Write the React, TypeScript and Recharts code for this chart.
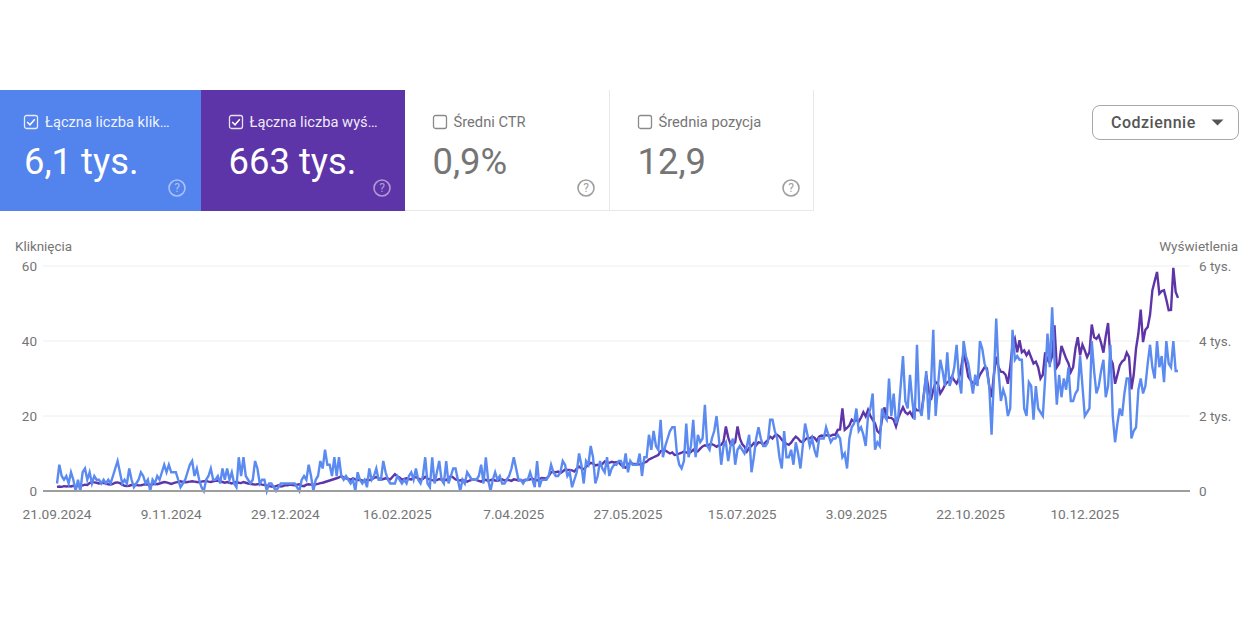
import React from "react";
import { LineChart, Line, XAxis, YAxis, CartesianGrid } from "recharts";

const tickIdx = [0, 49, 98, 146, 196, 245, 294, 343, 392, 441];
const tickLabels = ["21.09.2024", "9.11.2024", "29.12.2024", "16.02.2025", "7.04.2025", "27.05.2025", "15.07.2025", "3.09.2025", "22.10.2025", "10.12.2025"];

const clicks = [
  2,7,4,3,4,2,5,3,0,3, 0,5,6,3,5,2,4,3,3,2, 3,2,3,2,4,6,8,5,2,3, 2,6,3,1,2,3,5,4,2,3,
  0,3,2,4,3,5,7,5,7,5, 5,5,3,1,2,3,5,7,8,4, 6,3,1,0,3,4,6,3,3,4, 2,6,3,6,3,5,2,1,9,4,
  9,4,3,2,3,8,6,2,3,3, 0,2,2,1,0,1,2,2,2,2, 2,2,2,1,0,3,4,3,7,4, 0,3,4,8,6,11,7,7,4,9,
  4,9,4,3,4,3,2,3,0,5, 3,2,3,1,6,3,4,6,3,3, 8,5,3,2,2,2,4,3,2,3, 2,4,5,3,6,3,2,4,9,2,
  1,9,2,5,8,3,2,8,2,4, 6,6,3,0,3,2,5,4,3,3, 3,4,7,2,9,3,0,3,5,3, 4,2,2,3,4,6,9,6,3,3,
  2,3,3,5,3,1,8,1,3,3, 3,4,7,5,4,4,5,8,7,4, 5,1,3,5,10,7,2,8,7,12, 9,2,4,8,6,5,9,4,6,7,
  7,8,8,6,10,5,8,7,7,7, 10,4,9,9,15,11,16,12,11,19, 9,12,14,16,17,17,10,7,6,8, 18,9,12,19,9,15,13,14,23,12,
  11,14,16,20,14,7,12,13,8,12, 14,7,11,12,11,10,12,15,5,9, 14,17,14,12,12,13,19,19,16,14, 9,6,16,9,9,11,7,13,10,6,
  12,18,15,12,14,11,9,14,14,14, 17,15,13,14,14,15,14,9,10,6, 14,17,18,22,16,17,15,12,20,22, 26,11,13,12,22,20,19,30,20,26,
  18,20,28,36,24,22,31,24,19,39, 22,20,26,32,19,28,43,20,28,35, 32,28,37,28,30,33,39,30,26,40, 36,34,30,26,31,28,40,38,34,32,
  28,15,30,46,32,24,27,25,20,22, 43,35,36,35,35,22,20,29,28,19, 28,22,21,20,30,42,33,49,35,23, 31,25,30,27,33,24,24,26,27,36,
  28,20,21,22,40,32,26,28,32,35, 25,28,39,20,13,18,22,20,26,30, 30,14,16,17,27,30,26,28,34,39, 33,30,40,33,36,29,40,34,33,40,
  32,32,
];

const impressions = [
  110,120,110,130,120,130,120,140,130,140, 130,150,170,160,210,240,230,220,200,210,
  220,200,180,170,190,220,230,210,170,140, 130,140,160,170,160,150,150,170,180,170,
  170,180,190,180,200,220,240,230,210,190, 210,230,240,260,240,230,240,250,260,250,
  240,230,250,260,270,250,240,260,270,280, 260,240,220,240,220,200,230,240,220,210,
  240,220,200,190,180,170,180,190,170,160, 150,130,120,110,130,150,120,130,160,150,
  170,160,150,170,180,140,130,170,180,170, 160,180,190,210,220,240,260,280,300,320,
  340,360,400,360,340,320,300,340,310,290, 300,280,270,300,290,310,350,370,340,300,
  320,340,330,310,380,450,390,360,300,320, 340,320,310,350,370,340,300,320,380,330,
  310,290,280,290,320,300,310,290,330,400, 360,310,290,280,300,270,250,280,300,310,
  290,270,250,290,300,260,290,310,280,270, 290,310,280,300,290,270,310,300,280,290,
  270,300,290,310,330,300,280,320,350,340, 330,400,500,510,500,520,480,520,570,560,
  560,550,520,600,650,600,580,640,700,750, 730,680,700,680,720,790,760,750,780,760,
  770,760,700,650,620,700,760,730,720,710, 710,720,760,780,840,870,900,930,960,1060,
  1090,1080,1040,1000,1030,960,970,1000,1020,1050, 1030,1010,1040,1100,1030,1060,1130,1190,1220,1200,
  1240,1250,1220,1180,1220,1230,1320,1720,1430,1250, 1230,1300,1720,1400,1250,1180,1050,1150,1200,1280,
  1220,1300,1290,1240,1300,1360,1450,1400,1480,1500, 1450,1370,1300,1260,1230,1290,1380,1450,1400,1320,
  1300,1370,1420,1400,1450,1420,1340,1450,1480,1470, 1490,1480,1470,1500,1500,1630,1640,2200,1630,1680,
  1750,1900,1850,1900,1850,1960,2100,1990,2160,2000, 1900,1800,1600,1540,1900,2230,2000,1950,1950,1900,
  1720,1950,2100,2230,2100,2050,2110,2000,2230,2150, 2150,2130,2600,3090,2700,2430,2700,2910,2850,2600,
  2700,2830,2900,2950,3050,2950,2870,3000,3300,3700, 3400,3050,2950,2880,2870,2950,3100,3200,3300,3270,
  2800,2500,3100,3580,3300,3180,3170,3100,2860,3300, 3900,4060,3700,4020,3700,3750,3620,3720,3560,3400,
  3450,3300,3000,3100,3700,3500,3400,3600,4420,3300, 3400,3870,3700,3530,3400,3170,3300,3800,4100,3620,
  3900,3750,3570,3700,4440,4100,4060,4150,3950,3690, 4130,4480,3530,3400,2860,3100,3350,3450,3500,3690,
  3570,2710,3100,3800,4200,4840,3970,4300,4370,4700, 5350,5600,5840,5260,5330,5350,5100,4820,4830,5950,
  5310,5150,
];

const leftTicks = [0, 20, 40, 60];
const rightTicks = [0, 2000, 4000, 6000];
const rightLabels = ["0", "2 tys.", "4 tys.", "6 tys."];

const cards = [
  { label: "Łączna liczba klik…", value: "6,1 tys.", bg: "#5383EC", on: true },
  { label: "Łączna liczba wyś…", value: "663 tys.", bg: "#5E35A8", on: true },
  { label: "Średni CTR", value: "0,9%", bg: "#FFFFFF", on: false },
  { label: "Średnia pozycja", value: "12,9", bg: "#FFFFFF", on: false },
];

const rows = clicks.map((c, i) => ({ idx: i, clicks: c, impressions: impressions[i] }));
const FONT = "Roboto, sans-serif";

function Card({ c, x, w, inset }: { c: (typeof cards)[number]; x: number; w: number; inset: number }) {
  const fg = c.on ? "#FFFFFF" : "#757575";
  const help = c.on ? "rgba(255,255,255,0.5)" : "#9E9E9E";
  return (
    <div style={{ position: "absolute", left: x, top: 90, width: w, height: 121, background: c.bg, boxSizing: "border-box", borderRight: c.on ? "none" : "1px solid #E8E8E8", borderBottom: c.on ? "none" : "1px solid #E8E8E8", fontFamily: FONT }}>
      <svg width={16} height={16} style={{ position: "absolute", left: 23 + inset, top: 24 }}>
        <rect x={1.5} y={1.5} width={13} height={13} rx={2} fill="none" stroke={c.on ? "rgba(255,255,255,0.85)" : "#8A8A8A"} strokeWidth={1.3} />
        {c.on && <path d="M4.2 8 L7 10.8 L11.8 5.2" fill="none" stroke="#FFFFFF" strokeWidth={1.5} />}
      </svg>
      <div style={{ position: "absolute", left: 45 + inset, top: 23, fontSize: 14.7, lineHeight: "18px", color: c.on ? "rgba(255,255,255,0.92)" : "#757575", whiteSpace: "nowrap" }}>{c.label}</div>
      <div style={{ position: "absolute", left: 24 + inset, top: 50, fontSize: 36.4, lineHeight: "44px", color: fg, whiteSpace: "nowrap" }}>{c.value}</div>
      <svg width={20} height={20} style={{ position: "absolute", left: 167 + inset, top: 88 }}>
        <circle cx={10} cy={10} r={8} fill="none" stroke={help} strokeWidth={1.6} />
        <text x={10} y={14.2} textAnchor="middle" fontSize={12} fontFamily={FONT} fill={help}>?</text>
      </svg>
    </div>
  );
}

export default function App() {
  return (
    <div style={{ position: "absolute", left: 0, top: 0, width: 1250, height: 630, background: "#FFFFFF", overflow: "hidden", fontFamily: FONT }}>
      {cards.map((c, i) => (
        <Card key={c.label} c={c} x={[0, 201, 405, 610][i]} w={[201, 204, 205, 204][i]} inset={[0, 3.5, 3.5, 3.5][i]} />
      ))}
      <div style={{ position: "absolute", left: 1092, top: 105, width: 147, height: 35, boxSizing: "border-box", border: "1px solid #A8A8A8", borderRadius: 8, background: "#FFF" }}>
        <div style={{ position: "absolute", left: 18, top: 7, fontSize: 16, lineHeight: "20px", fontWeight: 500, color: "#555", letterSpacing: 0.5 }}>Codziennie</div>
        <svg width={14} height={8} style={{ position: "absolute", left: 118, top: 13 }}>
          <path d="M0.5 0.5 H12.5 L6.5 6.5 Z" fill="#555" />
        </svg>
      </div>
      <div style={{ position: "absolute", left: 15, top: 239, fontSize: 13.4, lineHeight: "15px", color: "#757575" }}>Kliknięcia</div>
      <div style={{ position: "absolute", right: 12, top: 239, fontSize: 13.5, lineHeight: "15px", color: "#757575" }}>Wyświetlenia</div>
      <LineChart width={1250} height={630} data={rows} margin={{ top: 266, right: 0, bottom: 0, left: 0 }} style={{ position: "absolute", left: 0, top: 0 }}>
        <CartesianGrid vertical={false} yAxisId="left" stroke="#EEEEEE" strokeWidth={1} />
        <XAxis
          dataKey="idx"
          type="number"
          domain={[0, 481]}
          ticks={tickIdx}
          tickFormatter={(v: number) => tickLabels[tickIdx.indexOf(v)]}
          padding={{ left: 14, right: 12 }}
          height={139}
          interval={0}
          tickLine={false}
          tickMargin={12}
          axisLine={{ stroke: "#9E9E9E", strokeWidth: 2 }}
          tick={{ fontSize: 13.7, fill: "#757575", fontFamily: FONT }}
        />
        <YAxis yAxisId="left" domain={[0, 60]} ticks={leftTicks} width={43} tickLine={false} axisLine={false} tickMargin={0} tick={{ fontSize: 13.5, fill: "#757575", fontFamily: FONT }} />
        <YAxis
          yAxisId="right"
          orientation="right"
          domain={[0, 6000]}
          ticks={rightTicks}
          tickFormatter={(v: number) => rightLabels[rightTicks.indexOf(v)]}
          width={60}
          tickLine={false}
          axisLine={false}
          tickMargin={3}
          tick={{ fontSize: 13.5, fill: "#757575", fontFamily: FONT, textAnchor: "start" }}
        />
        <Line yAxisId="right" dataKey="impressions" type="linear" stroke="#5E35A8" strokeWidth={2.4} dot={false} isAnimationActive={false} />
        <Line yAxisId="left" dataKey="clicks" type="linear" stroke="#5B8BF0" strokeWidth={2.4} dot={false} isAnimationActive={false} />
      </LineChart>
    </div>
  );
}
